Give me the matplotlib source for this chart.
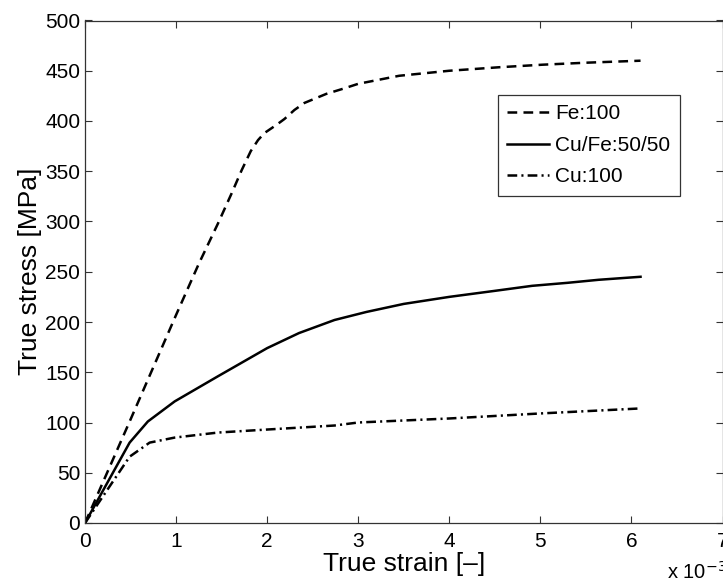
import matplotlib
matplotlib.use("Agg")
import matplotlib.pyplot as plt

plt.rcParams['font.family'] = ['Liberation Sans', 'DejaVu Sans']
plt.rcParams['lines.scale_dashes'] = False

# strain in units of 1e-3
fe_strain = [0, 0.5, 1.0, 1.25, 1.46, 1.61, 1.72, 1.82, 1.9, 1.97, 2.1, 2.19, 2.3, 2.41, 2.65, 2.83, 3.0, 3.45, 4.0, 4.55, 5.02, 5.5, 6.1]
fe_stress = [0, 103, 207, 258, 298, 328, 351, 370, 381, 388, 396, 402, 411, 418, 427, 432, 437, 445, 450, 453.5, 456, 458, 460]

cufe_strain = [0, 0.49, 0.69, 0.985, 1.46, 2.0, 2.35, 2.74, 3.09, 3.5, 4.0, 4.5, 4.91, 5.3, 5.64, 6.1]
cufe_stress = [0, 80, 101, 121, 146, 174, 189, 202, 210, 218, 225, 231, 236, 239, 242, 245]

cu_strain = [0, 0.49, 0.71, 0.985, 1.46, 2.0, 2.74, 3.0, 4.0, 5.0, 6.1]
cu_stress = [0, 66, 80, 85, 90, 93, 97, 100, 104, 109, 114]

labels = ['Fe:100', 'Cu/Fe:50/50', 'Cu:100']
x_ticks = [0, 1, 2, 3, 4, 5, 6, 7]
y_ticks = [0, 50, 100, 150, 200, 250, 300, 350, 400, 450, 500]

fig = plt.figure(figsize=(7.23, 5.83), dpi=100)
ax = fig.add_axes([85/723, 60/583, (722.5-85)/723, (523-20.5)/583])

lw = 1.8
ax.plot(fe_strain, fe_stress, color='black', lw=lw, dashes=(7, 4.5), label=labels[0])
ax.plot(cufe_strain, cufe_stress, color='black', lw=lw, ls='-', label=labels[1])
ax.plot(cu_strain, cu_stress, color='black', lw=lw, dashes=(7, 3, 1.5, 3), label=labels[2])

ax.set_xlim(0, 7)
ax.set_ylim(0, 500)
ax.set_xticks(x_ticks)
ax.set_yticks(y_ticks)
ax.tick_params(direction='in', top=True, right=True, length=5, width=0.8,
               color='#333333', labelsize=15)
ax.tick_params(axis='x', pad=6.5)
ax.tick_params(axis='y', pad=3.5)
for s in ax.spines.values():
    s.set_color('#333333')
    s.set_linewidth(0.9)

ax.set_xlabel('True strain [–]', fontsize=19, labelpad=1)
ax.set_ylabel('True stress [MPa]', fontsize=19, labelpad=2)

fig.text(667/723, 1 - 579/583, 'x 10$^{-3}$', fontsize=14.5, ha='left', va='baseline')

leg = ax.legend(loc='upper left', bbox_to_anchor=((498-85)/(722.5-85), (523-95)/(523-20.5)),
                fontsize=15, frameon=True, fancybox=False, edgecolor='black',
                handlelength=2.0, handletextpad=0.3, borderpad=0.45, labelspacing=0.6,
                borderaxespad=0)
leg.get_frame().set_linewidth(0.9)

fig.savefig('out.png', dpi=100)
